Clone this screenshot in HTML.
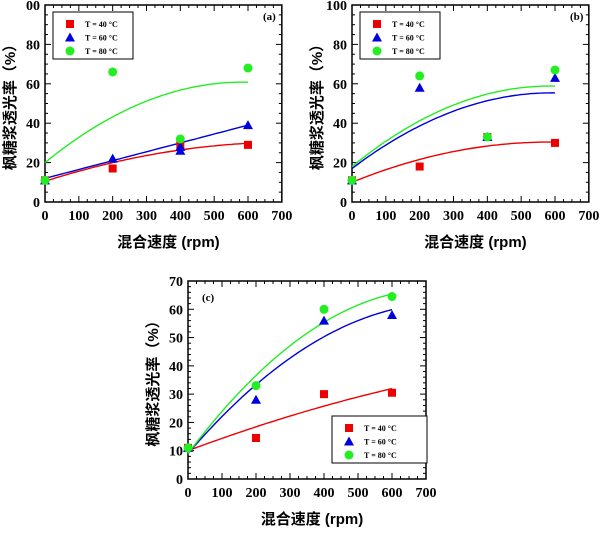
<!DOCTYPE html><html><head><meta charset="utf-8"><style>body{margin:0;background:#fff}svg{display:block}text{font-family:"Liberation Serif","Noto Serif CJK SC",serif;font-weight:bold}.cj{font-family:"Liberation Sans","Noto Sans CJK SC",sans-serif}</style></head><body>
<svg id="s" width="600" height="533" xmlns="http://www.w3.org/2000/svg"></svg>
<script>
const s=document.getElementById('s');let h='';
function panel(o){const {L,B,T,x600,ymax,ystep,ymin,lab,leg,fits,pts}=o;
const X=v=>L+v*(x600-L)/600, Y=v=>B-v*(B-T)/ymax, R=X(700);
h+=`<rect x="${L}" y="${T}" width="${R-L}" height="${B-T}" fill="none" stroke="#000" stroke-width="1.5"/>`;
for(let v=0;v<=700;v+=25){let l=v%100==0?6:3;h+=`<line x1="${X(v)}" y1="${B}" x2="${X(v)}" y2="${B-l}" stroke="#000"/><line x1="${X(v)}" y1="${T}" x2="${X(v)}" y2="${T+l}" stroke="#000"/>`;if(v%100==0)h+=`<text x="${X(v)}" y="${B+18}" font-size="14" text-anchor="middle">${v}</text>`}
for(let v=0;v<=ymax+0.01;v+=ymin){let maj=Math.abs(v/ystep-Math.round(v/ystep))<1e-6,l=maj?6:3;h+=`<line x1="${L}" y1="${Y(v)}" x2="${L+l}" y2="${Y(v)}" stroke="#000"/><line x1="${R}" y1="${Y(v)}" x2="${R-l}" y2="${Y(v)}" stroke="#000"/>`;if(maj){let t=Math.round(v);if(o.top00&&t==100)t='00';h+=`<text x="${L-5}" y="${Y(v)+5}" font-size="14" text-anchor="end">${t}</text>`}}
h+=`<text class="cj" x="${(L+R)/2+5}" y="${B+45}" font-size="15" text-anchor="middle">混合速度 (rpm)</text>`;
h+=`<text class="cj" transform="translate(${L-30},${(T+B)/2}) rotate(-90)" font-size="15" text-anchor="middle">枫糖浆透光率（%）</text>`;
h+=`<text x="${lab[0]}" y="${lab[1]}" font-size="11">${lab[2]}</text>`;
const cols=['#e00','#00d','#2e2'];
fits.forEach((f,i)=>{let d='';for(let x=0;x<=600;x+=10){d+=(x?'L':'M')+X(x).toFixed(1)+','+Y(f[0]+f[1]*x+f[2]*x*x).toFixed(1)}h+=`<path d="${d}" fill="none" stroke="${cols[i]}" stroke-width="1.4"/>`});
function mk(i,x,y){if(i==0)h+=`<rect x="${x-4}" y="${y-4}" width="8" height="8" fill="${cols[0]}"/>`;else if(i==1)h+=`<polygon points="${x},${y-5} ${x+5},${y+4} ${x-5},${y+4}" fill="${cols[1]}"/>`;else h+=`<circle cx="${x}" cy="${y}" r="4.5" fill="${cols[2]}"/>`}
pts.forEach((p,i)=>p.forEach(q=>mk(i,X(q[0]),Y(q[1]))));
h+=`<rect x="${leg[0]}" y="${leg[1]}" width="${leg[2]}" height="${leg[3]}" fill="#fff" stroke="#000"/>`;
['T = 40 °C','T = 60 °C','T = 80 °C'].forEach((t,i)=>{let yy=leg[1]+12+i*(leg[3]-20)/2;mk(i,leg[0]+17,yy);h+=`<text x="${leg[0]+32}" y="${yy+3}" font-size="8">${t}</text>`});
}
panel({L:45,B:202,T:5,x600:248,ymax:100,ystep:20,ymin:5,top00:1,lab:[263,20,'(a)'],leg:[53,12,80,47],
fits:[[10.5,0.055,-0.000038],[12,0.045,0],[20,0.14,-0.00012]],
pts:[[[0,11],[200,17],[400,29],[600,29]],[[0,11],[200,22],[400,26],[400,28],[600,39]],[[0,11],[200,66],[400,32],[600,68]]]});
panel({L:352,B:202,T:5,x600:555,ymax:100,ystep:20,ymin:5,lab:[570,20,'(b)'],leg:[360,12,80,47],
fits:[[10,0.07,-0.00006],[17,0.13,-0.00011],[18,0.14,-0.00012]],
pts:[[[0,11],[200,18],[400,33],[600,30]],[[0,11],[200,58],[400,33],[600,63]],[[0,11],[200,64],[400,33],[600,67]]]});
panel({L:188,B:479,T:281,x600:392,ymax:70,ystep:10,ymin:2,lab:[202,301,'(c)'],leg:[332,416,95,47],
fits:[[10,0.045,-0.000014],[9,0.14,-0.000092],[9,0.16,-0.00011]],
pts:[[[0,11],[200,14.5],[400,30],[600,30.5]],[[0,11],[200,28],[400,56],[600,58]],[[0,11],[200,33],[400,60],[600,64.5]]]});
s.innerHTML=h;
</script></body></html>
